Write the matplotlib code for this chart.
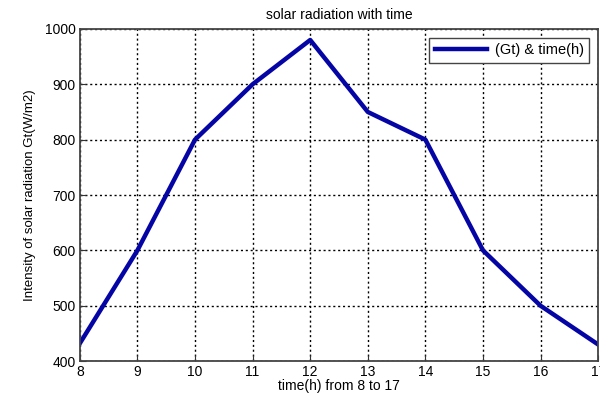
import matplotlib
matplotlib.use("Agg")
import matplotlib.pyplot as plt

plt.rcParams['font.family'] = ['Liberation Sans', 'DejaVu Sans']

hours = [8, 9, 10, 11, 12, 13, 14, 15, 16, 17]
radiation = [432, 600, 800, 900, 980, 850, 800, 600, 500, 430]
x_ticks = list(range(8, 18))
y_ticks = [400, 500, 600, 700, 800, 900, 1000]

fig = plt.figure(figsize=(6, 3.96), dpi=100)
ax = fig.add_axes([0.133, 0.088, 0.864, 0.839])

ax.plot(hours, radiation, color='#0505a5', linewidth=3.2, label='(Gt) & time(h)')

ax.set_xlim(8, 17)
ax.set_ylim(400, 1000)
ax.set_xticks(x_ticks)
ax.set_yticks(y_ticks)
ax.tick_params(direction='in', labelsize=10, length=4, color='#333333', pad=3)
ax.grid(True, linestyle=(0, (1.5, 2)), color='black', linewidth=1)
for s in ax.spines.values():
    s.set_color('#444444')
    s.set_linewidth(1.3)

ax.set_title('solar radiation with time', fontsize=10, pad=7)
ax.set_xlabel('time(h) from 8 to 17', fontsize=10, labelpad=0)
ax.set_ylabel('Intensity of solar radiation Gt(W/m2)', fontsize=9.5, labelpad=6)

leg = ax.legend(loc='upper right', fontsize=10.5, fancybox=False, framealpha=1,
                handlelength=3.6, handletextpad=0.5, borderpad=0.4,
                edgecolor='#444444', borderaxespad=0.6)
leg.get_frame().set_linewidth(1)

fig.savefig('out.png', dpi=100)
